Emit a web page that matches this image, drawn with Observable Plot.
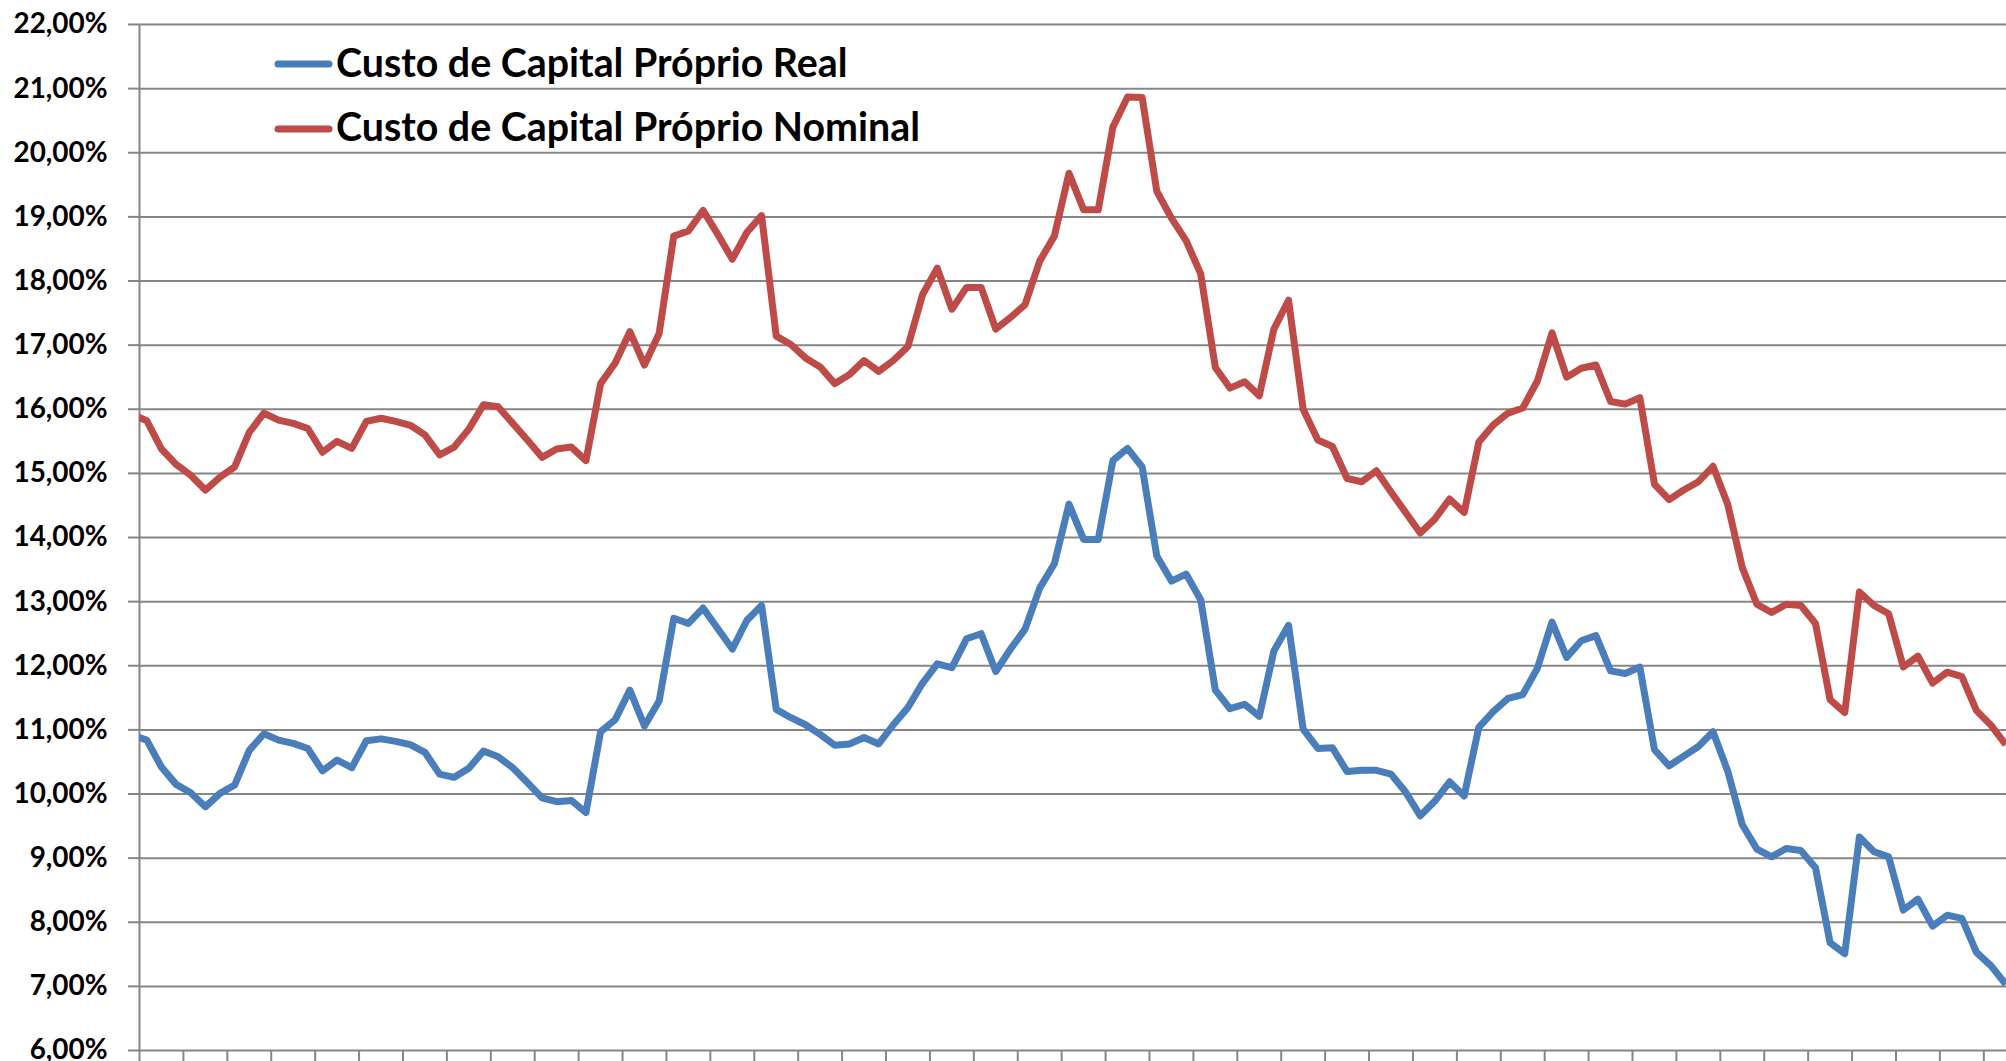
<!DOCTYPE html>
<html>
<head>
<meta charset="utf-8">
<script src="https://cdn.jsdelivr.net/npm/d3@7"></script>
<script src="https://cdn.jsdelivr.net/npm/@observablehq/plot@0.6"></script>
<style>
  html, body { margin: 0; padding: 0; background: #fff; }
  #wrap { position: relative; width: 2006px; height: 1061px; overflow: hidden; }
  #legend { position: absolute; left: 0; top: 0; }
</style>
</head>
<body>
<div id="wrap"></div>
<script>
// Series names
const seriesNames = ["Custo de Capital Próprio Real", "Custo de Capital Próprio Nominal"];
const seriesColors = ["#4A7EBB", "#BE4B48"];

// Period index (monthly categories; first one sits just left of the axis)
const periods = d3.range(-1, 128);

// Custo de Capital Próprio Real (%)
const real = [
  10.92, 10.84, 10.42, 10.15, 10.02, 9.80, 10.01, 10.14, 10.68, 10.94,
  10.84, 10.79, 10.71, 10.36, 10.53, 10.41, 10.83, 10.86, 10.82, 10.77,
  10.65, 10.31, 10.26, 10.40, 10.67, 10.58, 10.41, 10.18, 9.94, 9.88,
  9.90, 9.71, 10.97, 11.16, 11.62, 11.06, 11.45, 12.74, 12.66, 12.90,
  12.58, 12.26, 12.71, 12.94, 11.32, 11.19, 11.08, 10.93, 10.76, 10.78,
  10.88, 10.78, 11.08, 11.35, 11.73, 12.03, 11.97, 12.42, 12.50, 11.91,
  12.26, 12.57, 13.21, 13.59, 14.52, 13.97, 13.97, 15.20, 15.39, 15.10,
  13.71, 13.32, 13.43, 13.03, 11.62, 11.33, 11.40, 11.21, 12.23, 12.63,
  11.01, 10.71, 10.72, 10.35, 10.37, 10.37, 10.31, 10.03, 9.66, 9.89,
  10.19, 9.97, 11.04, 11.29, 11.49, 11.55, 11.96, 12.68, 12.13, 12.39,
  12.47, 11.92, 11.88, 11.98, 10.69, 10.44, 10.59, 10.74, 10.97, 10.36,
  9.52, 9.14, 9.02, 9.15, 9.12, 8.85, 7.68, 7.51, 9.33, 9.10,
  9.02, 8.19, 8.36, 7.94, 8.11, 8.06, 7.53, 7.32, 7.03
];

// Custo de Capital Próprio Nominal (%)
const nominal = [
  15.92, 15.82, 15.38, 15.14, 14.97, 14.74, 14.94, 15.10, 15.64, 15.94,
  15.83, 15.78, 15.70, 15.33, 15.50, 15.39, 15.81, 15.86, 15.81, 15.75,
  15.60, 15.29, 15.41, 15.69, 16.07, 16.04, 15.78, 15.52, 15.25, 15.38,
  15.41, 15.20, 16.40, 16.72, 17.21, 16.69, 17.18, 18.70, 18.78, 19.10,
  18.73, 18.34, 18.76, 19.02, 17.14, 17.01, 16.80, 16.66, 16.40, 16.54,
  16.76, 16.59, 16.76, 16.98, 17.79, 18.20, 17.56, 17.90, 17.90, 17.25,
  17.43, 17.63, 18.31, 18.70, 19.68, 19.11, 19.11, 20.40, 20.87, 20.86,
  19.40, 18.98, 18.63, 18.11, 16.65, 16.33, 16.43, 16.21, 17.25, 17.70,
  16.00, 15.52, 15.42, 14.92, 14.87, 15.04, 14.71, 14.39, 14.07, 14.29,
  14.60, 14.39, 15.49, 15.76, 15.94, 16.02, 16.44, 17.19, 16.50, 16.64,
  16.69, 16.12, 16.08, 16.18, 14.83, 14.59, 14.74, 14.87, 15.11, 14.52,
  13.53, 12.96, 12.83, 12.96, 12.94, 12.66, 11.47, 11.27, 13.15, 12.94,
  12.81, 11.98, 12.15, 11.73, 11.90, 11.83, 11.30, 11.07, 10.77
];

// Y ticks (%), x tick marks every 3 categories (at category boundaries)
const yTicks = d3.range(6, 23, 1);
const xTicks = d3.range(-0.5, 127, 3);

const fmt = d => d.toFixed(2).replace(".", ",") + "%";

// font fitting helper (sizes only)
const ctx = document.createElement("canvas").getContext("2d");
function fitSize(text, target, family, weight) {
  ctx.font = `${weight} 100px ${family}`;
  const w = ctx.measureText(text).width;
  return 100 * target / w;
}
const FAMILY = "Lato";
const yFont = fitSize("22,00%", 94, FAMILY, "bold");
const legFont = (fitSize(seriesNames[0], 512, FAMILY, "bold") + fitSize(seriesNames[1], 584, FAMILY, "bold")) / 2;

const realData = periods.map((p, i) => ({p, v: real[i]}));
const nomData = periods.map((p, i) => ({p, v: nominal[i]}));

const grid = "#868686";

const chart = Plot.plot({
  width: 2006,
  height: 1061,
  marginLeft: 139,
  marginRight: 0,
  marginTop: 24,
  marginBottom: 11,
  x: {type: "linear", domain: [-0.5, 127.05]},
  y: {type: "linear", domain: [6, 22]},
  style: {background: "white", fontFamily: `${FAMILY}, sans-serif`, color: "black"},
  marks: [
    Plot.gridY(yTicks, {stroke: grid, strokeOpacity: 1, strokeWidth: 2}),
    Plot.axisY(yTicks, {
      tickSize: 11, tickPadding: 21, stroke: grid, strokeWidth: 2,
      tickFormat: fmt, fill: "black", fontSize: yFont, fontWeight: "bold", label: null
    }),
    Plot.axisX(xTicks, {
      tickSize: 11, tickFormat: () => "", stroke: grid, strokeWidth: 2, label: null
    }),
    Plot.ruleX([-0.5], {stroke: grid, strokeWidth: 2}),
    Plot.line(realData, {x: "p", y: "v", stroke: seriesColors[0], strokeWidth: 7, strokeLinejoin: "round", strokeLinecap: "butt", clip: true}),
    Plot.line(nomData, {x: "p", y: "v", stroke: seriesColors[1], strokeWidth: 7, strokeLinejoin: "round", strokeLinecap: "butt", clip: true})
  ]
});

const wrap = document.getElementById("wrap");
wrap.appendChild(chart);

// Legend overlay
const leg = d3.select(wrap).append("svg")
  .attr("id", "legend")
  .attr("width", 1000).attr("height", 170)
  .style("font-family", `${FAMILY}, sans-serif`);
const legRows = [
  {name: seriesNames[0], color: seriesColors[0], y: 64, base: 76.7},
  {name: seriesNames[1], color: seriesColors[1], y: 129, base: 141}
];
legRows.forEach(r => {
  leg.append("line")
    .attr("x1", 278).attr("x2", 329)
    .attr("y1", r.y).attr("y2", r.y)
    .attr("stroke", r.color).attr("stroke-width", 7).attr("stroke-linecap", "round");
  leg.append("text")
    .attr("x", 336).attr("y", r.base)
    .attr("font-size", legFont).attr("font-weight", "bold").attr("fill", "black")
    .text(r.name);
});
</script>
</body>
</html>
